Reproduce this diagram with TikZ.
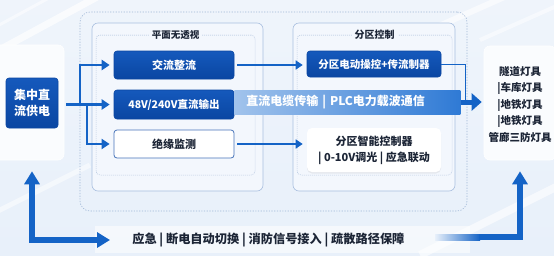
\documentclass[tikz,border=0pt]{standalone}
\usepackage{fontspec}
\setmainfont{Noto Sans CJK SC}
\usetikzlibrary{arrows.meta, positioning, shadows}
\definecolor{cbg}{HTML}{E8F0FA}
\definecolor{ccard}{HTML}{F3F7FD}
\definecolor{cedge}{HTML}{A9BFDF}
\definecolor{cdot}{HTML}{9FB6D6}
\definecolor{cdark}{HTML}{0A46A2}
\definecolor{cdarkT}{HTML}{1559BC}
\definecolor{carrow}{HTML}{1463C6}
\definecolor{cband}{HTML}{2F7AD5}
\definecolor{ctext}{HTML}{1C2536}
\tikzset{
  every picture/.style={font=\bfseries, line width=0.6pt},
  card/.style={draw=cedge, fill=ccard, rounded corners=6pt},
  dotframe/.style={draw=cdot, dash pattern=on 0.8pt off 1.2pt, line width=0.5pt, rounded corners=4pt},
  darkbox/.style={top color=cdarkT, bottom color=cdark, draw=cdark, rounded corners=3pt, text=white, align=center, font=\bfseries\fontsize{#1}{13}\selectfont},
  darkbox/.default=11,
  lightbox/.style={fill=white, draw=cdark!75, line width=0.8pt, rounded corners=3pt, text=ctext, align=center, font=\bfseries\fontsize{11}{13}\selectfont},
  grptitle/.style={fill=ccard, text=ctext, inner sep=3pt, font=\bfseries\fontsize{9.5}{11}\selectfont},
  arrow/.style={-{Triangle[length=8pt, width=10pt]}, draw=carrow, line width=2.2pt},
  thinarrow/.style={-{Triangle[length=7pt, width=9pt]}, draw=carrow, line width=1.6pt},
  fatarrow/.style={draw=carrow, line width=6pt},
}
\begin{document}
\begin{tikzpicture}[x=1pt, y=-1pt]
  \useasboundingbox (0,0) rectangle (554,255);
  % background
  \shade[top color=cbg!70!white, bottom color=cbg] (0,0) rectangle (554,255);
  \draw[white, opacity=0.7, line width=7pt] (-10,55) -- (110,-10);
  \draw[white, opacity=0.5, line width=3pt] (-10,30) -- (60,-8);
  \draw[white, opacity=0.6, line width=6pt] (430,30) -- (520,-10);
  \draw[white, opacity=0.5, line width=4pt] (480,40) -- (570,0);
  \draw[white, opacity=0.6, line width=8pt] (420,255) -- (570,180);
  \draw[white, opacity=0.5, line width=5pt] (-10,215) -- (90,165);
  \fill[white, opacity=0.55] (95,226) rectangle (470,253);
  % outer frame
  \node[draw=cdot, dash pattern=on 1.2pt off 1.5pt, rounded corners=10pt, minimum width=387pt, minimum height=199pt] (outer) at (273.5,111.5) {};
  % supply
  \node[card, draw=white, fill=white!60!ccard, minimum width=70pt, minimum height=115pt] (srccard) at (29,102.5) {};
  \node[darkbox=12, minimum width=52pt, minimum height=50pt, font=\bfseries\fontsize{12}{16}\selectfont] (src) at (32,103) {集中直\\流供电};
  % left group
  \node[card, minimum width=171pt, minimum height=168pt] (grpL) at (177.5,107) {};
  \node[dotframe, minimum width=159pt, minimum height=140pt] (inL) at (175.5,105) {};
  \node[grptitle] (tL) at (inL.north) {平面无透视};
  \node[darkbox, minimum width=120pt, minimum height=28pt] (ac) at (174,65) {交流整流};
  \node[darkbox=10.5, minimum width=120pt, minimum height=29pt] (dc) at (174,104.5) {48V/240V直流输出};
  \node[lightbox, minimum width=120pt, minimum height=28pt] (ins) at (174,144) {绝缘监测};
  % right group
  \node[card, minimum width=162pt, minimum height=168pt] (grpR) at (374,107) {};
  \node[dotframe, minimum width=155pt, minimum height=140pt] (inR) at (374.5,105) {};
  \node[grptitle, font=\bfseries\fontsize{10}{11}\selectfont] (tR) at (inR.north) {分区控制};
  \node[darkbox=10.5, minimum width=134pt, minimum height=26pt] (ctrl1) at (374,64) {分区电动操控+传流制器};
  \node[fill=white, rounded corners=5pt, drop shadow={opacity=0.12, shadow xshift=0pt, shadow yshift=-1.5pt}, minimum width=134pt, minimum height=44pt, align=center, text=ctext, font=\bfseries\fontsize{11}{16}\selectfont] (ctrl2) at (374,150) {分区智能控制器\\| 0-10V调光 | 应急联动};
  % lamps
  \node[card, draw=white, fill=white!60!ccard, minimum width=72pt, minimum height=114pt] (lampcard) at (520,103) {};
  \node[align=center, text=ctext, font=\bfseries\fontsize{10.5}{16.5}\selectfont] (lamps) at (520,104) {隧道灯具\\|车库灯具\\|地铁灯具\\|地铁灯具\\管廊三防灯具};
  % connectors
  \coordinate (splitU) at (80,104.5);
  \coordinate (splitD) at (87,104.5);
  \coordinate (jn) at (465,103);
  \draw[arrow, shorten <=8pt, shorten >=4pt] (src.east |- dc.west) -- (dc.west);
  \draw[arrow, shorten >=4pt] (splitU) |- (ac.west);
  \draw[arrow, shorten >=4pt] (splitD) |- (ins.west);
  \draw[thinarrow, shorten <=3pt, shorten >=4pt] (ac.east) -- (ac.east -| ctrl1.west);
  \draw[thinarrow, shorten <=3pt, shorten >=4pt] (ins.east) -- (ins.east -| ctrl2.west);
  \draw[carrow, line width=1pt] (ctrl1.east) -| (jn);
  % cable band
  \node[left color=cband!45!white, right color=cband, minimum width=226pt, minimum height=24pt, anchor=west, text width=202pt, inner xsep=12pt, align=left, text=white, font=\bfseries\fontsize{12}{14}\selectfont] (band) at (234,102) {直流电缆传输 | PLC电力载波通信};
  \draw[carrow, line width=5pt, -{Triangle[length=10pt, width=17pt]}, shorten >=2pt] (band.east) -- (band.east -| lampcard.west);
  % emergency
  \node[anchor=west, inner sep=3pt, text=ctext, font=\bfseries\fontsize{12.2}{14}\selectfont] (emerg) at (129,240) {应急 | 断电自动切换 | 消防信号接入 | 疏散路径保障};
  \draw[fatarrow, {Triangle[length=13pt, width=15pt]}-{Triangle[length=13pt, width=15pt]}, shorten <=11pt, shorten >=19pt] (srccard.south -| src) |- (emerg.west);
  \coordinate (fadeR) at (479,237);
  \shade[left color=cbg, right color=carrow] (435,234) rectangle (480,240);
  \draw[fatarrow, -{Triangle[length=13pt, width=15pt]}, shorten >=11pt] (fadeR) -| (lampcard.south);
\end{tikzpicture}
\end{document}
